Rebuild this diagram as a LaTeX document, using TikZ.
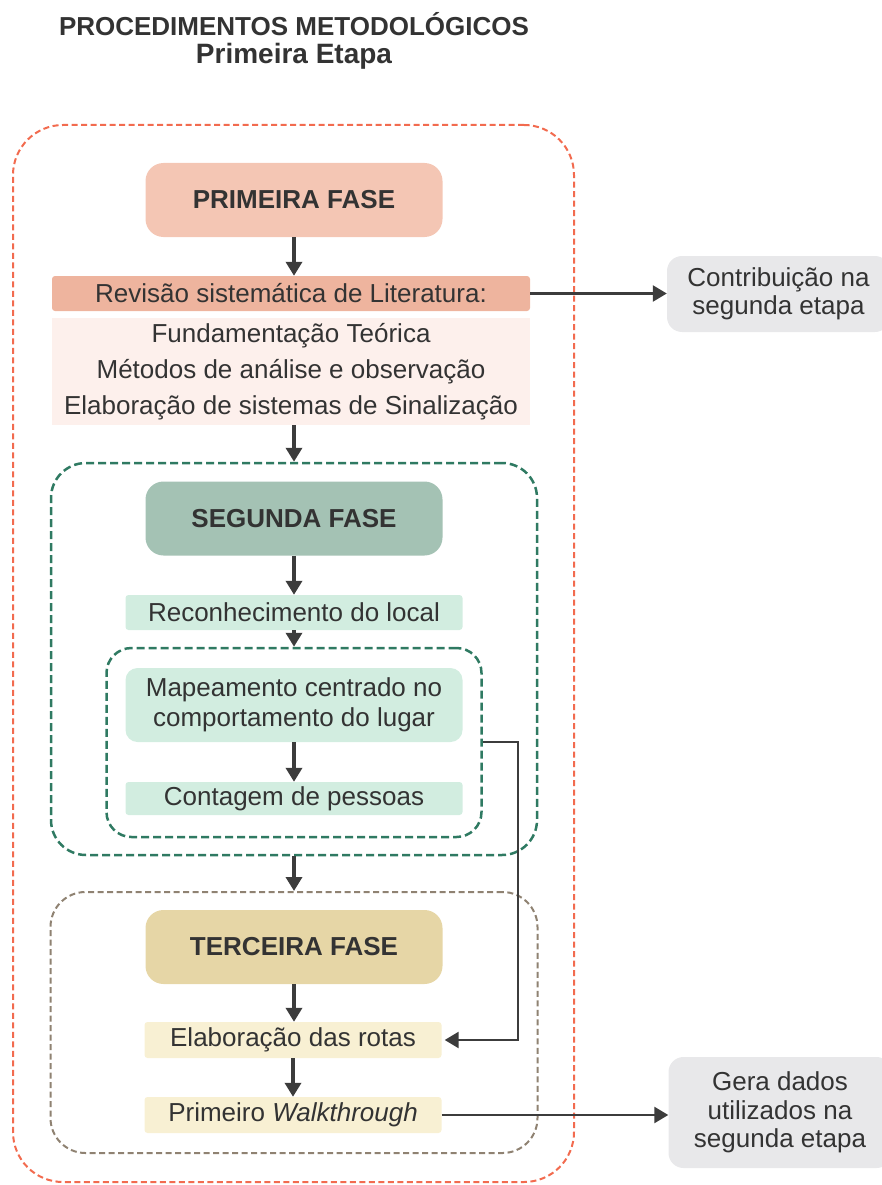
\documentclass[tikz,border=0pt]{standalone}
\usepackage{fontspec}
\setmainfont{Liberation Sans}
\usetikzlibrary{arrows.meta}
\definecolor{txtgray}{HTML}{333333}
\definecolor{arrowgray}{HTML}{3C3C3C}
\definecolor{orangeline}{HTML}{F26B4F}
\definecolor{greenline}{HTML}{2F7A62}
\definecolor{brownline}{HTML}{8F8272}
\definecolor{salmonfill}{HTML}{F4C6B4}
\definecolor{salmonbar}{HTML}{EEB49E}
\definecolor{pinkfill}{HTML}{FDF0EC}
\definecolor{sagefill}{HTML}{A4C2B4}
\definecolor{mintfill}{HTML}{D2EDE0}
\definecolor{khakifill}{HTML}{E6D6A6}
\definecolor{creamfill}{HTML}{F8F0D3}
\definecolor{notefill}{HTML}{E8E8EA}
\tikzset{
  fasebox/.style={rounded corners=18pt, inner sep=0pt, minimum width=297pt, minimum height=74pt,
    text=txtgray, font=\fontsize{26}{30}\selectfont\bfseries},
  barbox/.style={rounded corners=3pt, inner sep=0pt, align=center, text=txtgray,
    font=\fontsize{26}{30}\selectfont},
  frame/.style={draw, line width=2pt, inner sep=0pt, dash pattern=on 6pt off 3.5pt},
  notebox/.style={fill=notefill, rounded corners=15pt, inner sep=0pt, align=center, text=txtgray,
    minimum width=223pt, font=\fontsize{26}{28.5}\selectfont},
  flow/.style={draw=arrowgray, line width=3.5pt, -{Triangle[length=14pt,width=16pt]}},
  link/.style={draw=arrowgray, line width=2.5pt, -{Triangle[length=14pt,width=16pt]}}
}

\begin{document}
\begin{tikzpicture}[x=1pt, y=-1pt]
			%%%%% START %%%%%
			\useasboundingbox (0, 0) rectangle (882, 1185);
			
			\node[text=txtgray, font=\fontsize{26}{30}\selectfont\bfseries] (titulo) at (294, 24) {PROCEDIMENTOS METODOLÓGICOS};
			\node[text=txtgray, font=\fontsize{28}{30}\selectfont\bfseries] (etapa) at (294, 56) {Primeira Etapa};
			
			% dashed frames
			\node[frame, draw=orangeline, rounded corners=50pt, minimum width=561pt, minimum height=1057pt] (geral) at (293.5, 653.5) {};
			\node[frame, draw=greenline, line width=2.5pt, dash pattern=on 8pt off 4pt, rounded corners=35pt, minimum width=486pt, minimum height=392pt] (segbox) at (294, 659) {};
			\node[frame, draw=greenline, line width=2.5pt, dash pattern=on 8pt off 4pt, rounded corners=25pt, minimum width=375pt, minimum height=189pt] (mapbox) at (294, 742.5) {};
			\node[frame, draw=brownline, rounded corners=35pt, minimum width=487pt, minimum height=261pt] (terbox) at (294, 1022.5) {};
			
			% primeira fase
			\node[fasebox, fill=salmonfill] (fase1) at (294, 200) {PRIMEIRA FASE};
			\node[barbox, fill=salmonbar, minimum width=478pt, minimum height=35pt] (revisao) at (291, 293.5) {Revisão sistemática de Literatura:};
			\node[barbox, fill=pinkfill, rounded corners=0pt, minimum width=478pt, minimum height=107pt,
				font=\fontsize{26}{36}\selectfont] (fundam) at (291, 371.5) {Fundamentação Teórica\\Métodos de análise e observação\\Elaboração de sistemas de Sinalização};
			
			% segunda fase
			\node[fasebox, fill=sagefill] (fase2) at (294, 518.5) {SEGUNDA FASE};
			\node[barbox, fill=mintfill, minimum width=337pt, minimum height=35pt] (reconh) at (294, 612.5) {Reconhecimento do local};
			\node[barbox, fill=mintfill, rounded corners=12pt, minimum width=337pt, minimum height=74pt] (mapeam) at (294, 705) {Mapeamento centrado no\\comportamento do lugar};
			\node[barbox, fill=mintfill, minimum width=337pt, minimum height=33pt] (contag) at (294, 798.5) {Contagem de pessoas};
			
			% terceira fase
			\node[fasebox, fill=khakifill] (fase3) at (294, 947) {TERCEIRA FASE};
			\node[barbox, fill=creamfill, minimum width=297pt, minimum height=36pt] (rotas) at (293, 1040) {Elaboração das rotas};
			\node[barbox, fill=creamfill, minimum width=297pt, minimum height=36pt] (walk) at (293, 1115) {Primeiro \textit{Walkthrough}};
			
			% notes on the right
			\node[notebox, minimum height=76pt] (contrib) at (778.5, 294) {Contribuição na\\segunda etapa};
			\node[notebox, minimum height=111pt] (geradados) at (780, 1112.5) {Gera dados\\utilizados na\\segunda etapa};
			
			% flow
			\draw[flow] (fase1.south) -- (fase1.south |- revisao.north);
			\draw[flow] (fase1.south |- fundam.south) -- (segbox.north);
			\draw[flow] (fase2.south) -- (reconh.north);
			\draw[flow] (reconh.south) -- (mapbox.north);
			\draw[flow] (mapeam.south) -- (contag.north);
			\draw[flow] (segbox.south) -- (terbox.north);
			\draw[flow] (fase3.south) -- (fase3.south |- rotas.north);
			\draw[flow] (rotas.south) -- (walk.north);
			
			\draw[link] (revisao.east) -- (revisao.east -| contrib.west);
			\draw[link] (walk.east) -- (walk.east -| geradados.west);
			\draw[link, shorten >=3pt] (mapbox.east |- mapeam.south) -- ++(35, 0) |- (rotas.east);
			
			%%%%% END %%%%%
\end{tikzpicture}
\end{document}
